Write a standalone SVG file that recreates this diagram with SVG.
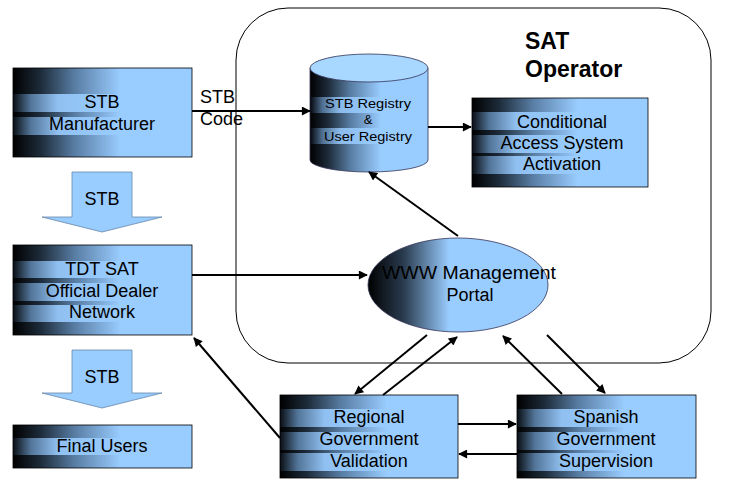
<svg xmlns="http://www.w3.org/2000/svg" width="742" height="482" viewBox="0 0 742 482">
<defs>
<linearGradient id="g1" x1="0" y1="0" x2="1" y2="0">
<stop offset="0" stop-color="#000"/>
<stop offset="0.15" stop-color="#1c2a38"/>
<stop offset="0.35" stop-color="#5a7fa6"/>
<stop offset="0.6" stop-color="#99ccff"/>
<stop offset="1" stop-color="#99ccff"/>
</linearGradient>
<linearGradient id="g2" x1="0" y1="0" x2="1" y2="0">
<stop offset="0" stop-color="#0a0f16"/>
<stop offset="0.1" stop-color="#5a7fa6"/>
<stop offset="0.25" stop-color="#99ccff"/>
<stop offset="1" stop-color="#99ccff"/>
</linearGradient>
<linearGradient id="ge" x1="0" y1="0" x2="1" y2="0">
<stop offset="0" stop-color="#000"/>
<stop offset="0.2" stop-color="#2a3c50"/>
<stop offset="0.45" stop-color="#99ccff"/>
<stop offset="1" stop-color="#99ccff"/>
</linearGradient>
<marker id="ah" viewBox="0 0 10 10" refX="9" refY="5" markerWidth="11" markerHeight="9" markerUnits="userSpaceOnUse" orient="auto">
<path d="M0,0 L10,5 L0,10 z" fill="#000"/>
</marker>
<style>
.box{fill:url(#g1);}
.band{fill:url(#g2);}
.edge{fill:none;stroke:#000;stroke-width:0.8;}
.t{font-family:"Liberation Sans",Arial,sans-serif;font-size:18px;fill:#000;text-anchor:middle;}
.ts{font-family:"Liberation Sans",Arial,sans-serif;font-size:13px;fill:#000;text-anchor:middle;}
.tb{font-family:"Liberation Sans",Arial,sans-serif;font-size:23px;font-weight:bold;fill:#000;}
.c{fill:none;stroke:#000;stroke-width:2;marker-end:url(#ah);}
.blk{fill:#99ccff;stroke:#6688aa;stroke-width:0.8;}
</style>
</defs>
<rect width="742" height="482" fill="#fff"/>

<g id="sat-operator">
<rect x="236" y="8" width="475" height="355" rx="52" ry="52" fill="none" stroke="#000" stroke-width="1"/>
<text class="tb" x="525" y="49">SAT</text>
<text class="tb" x="525" y="77">Operator</text>
</g>

<g id="stb-manufacturer">
<rect class="box" x="13" y="68" width="179" height="89"/>
<rect class="band" x="13" y="94" width="179" height="18" opacity="0.9"/>
<rect class="band" x="13" y="117" width="179" height="18" opacity="0.9"/>
<rect class="edge" x="13" y="68" width="179" height="89"/>
<text class="t" x="102" y="108">STB</text>
<text class="t" x="102" y="130">Manufacturer</text>
</g>

<g id="stb-arrow-1">
<path class="blk" d="M72,172 L132,172 L132,217 L162,217 L102,232 L42,217 L72,217 z"/>
<text class="t" x="102" y="205">STB</text>
</g>

<g id="tdt-sat-dealer">
<rect class="box" x="13" y="245" width="179" height="90"/>
<rect class="band" x="13" y="261" width="179" height="17" opacity="0.9"/>
<rect class="band" x="13" y="283" width="179" height="18" opacity="0.9"/>
<rect class="band" x="13" y="305" width="179" height="17" opacity="0.9"/>
<rect class="edge" x="13" y="245" width="179" height="90"/>
<text class="t" x="102" y="275">TDT SAT</text>
<text class="t" x="102" y="297">Official Dealer</text>
<text class="t" x="102" y="318">Network</text>
</g>

<g id="stb-arrow-2">
<path class="blk" d="M72,350 L132,350 L132,393 L162,393 L102,408 L42,393 L72,393 z"/>
<text class="t" x="102" y="383">STB</text>
</g>

<g id="final-users">
<rect class="box" x="13" y="425" width="179" height="43"/>
<rect class="band" x="13" y="438" width="179" height="17" opacity="0.9"/>
<rect class="edge" x="13" y="425" width="179" height="43"/>
<text class="t" x="102" y="452">Final Users</text>
</g>

<g id="registry">
<path d="M310,68 L310,160 A59,12 0 0 0 428,160 L428,68 z" fill="url(#g1)" stroke="#335" stroke-width="0.8"/>
<rect class="band" x="311" y="97" width="116" height="16" opacity="0.85"/>
<rect class="band" x="311" y="128" width="116" height="16" opacity="0.85"/>
<ellipse cx="369" cy="68" rx="59" ry="14" fill="#a8d8ff" stroke="#335" stroke-width="0.8"/>
<text class="ts" x="368" y="108" textLength="86" lengthAdjust="spacingAndGlyphs">STB Registry</text>
<text class="ts" x="368" y="124">&amp;</text>
<text class="ts" x="368" y="141" textLength="88" lengthAdjust="spacingAndGlyphs">User Registry</text>
</g>

<g id="cas-activation">
<rect class="box" x="472" y="98" width="176" height="89"/>
<rect class="band" x="472" y="112" width="176" height="18" opacity="0.9"/>
<rect class="band" x="472" y="135" width="176" height="18" opacity="0.9"/>
<rect class="band" x="472" y="156" width="176" height="18" opacity="0.9"/>
<rect class="edge" x="472" y="98" width="176" height="89"/>
<text class="t" x="562" y="128">Conditional</text>
<text class="t" x="562" y="149">Access System</text>
<text class="t" x="562" y="170">Activation</text>
</g>

<g id="www-portal">
<ellipse cx="458" cy="285" rx="90" ry="47" fill="url(#ge)" stroke="#335" stroke-width="0.8"/>
<text class="t" x="469" y="279" textLength="174" lengthAdjust="spacingAndGlyphs">WWW Management</text>
<text class="t" x="470" y="301">Portal</text>
</g>

<g id="regional-gov">
<rect class="box" x="280" y="395" width="178" height="83"/>
<rect class="band" x="280" y="409" width="178" height="18" opacity="0.9"/>
<rect class="band" x="280" y="432" width="178" height="18" opacity="0.9"/>
<rect class="band" x="280" y="453" width="178" height="18" opacity="0.9"/>
<rect class="edge" x="280" y="395" width="178" height="83"/>
<text class="t" x="369" y="423">Regional</text>
<text class="t" x="369" y="445">Government</text>
<text class="t" x="369" y="467">Validation</text>
</g>

<g id="spanish-gov">
<rect class="box" x="517" y="395" width="179" height="83"/>
<rect class="band" x="517" y="409" width="179" height="18" opacity="0.9"/>
<rect class="band" x="517" y="432" width="179" height="18" opacity="0.9"/>
<rect class="band" x="517" y="453" width="179" height="18" opacity="0.9"/>
<rect class="edge" x="517" y="395" width="179" height="83"/>
<text class="t" x="606" y="423">Spanish</text>
<text class="t" x="606" y="445">Government</text>
<text class="t" x="606" y="467">Supervision</text>
</g>

<g id="connectors">
<line class="c" x1="192" y1="111" x2="310" y2="111"/>
<text class="t" x="200" y="103" style="text-anchor:start">STB</text>
<text class="t" x="200" y="125" style="text-anchor:start">Code</text>
<line class="c" x1="428" y1="127" x2="471" y2="127"/>
<line class="c" x1="192" y1="275" x2="367" y2="275"/>
<line class="c" x1="458" y1="236" x2="369" y2="172"/>
<line class="c" x1="427" y1="335" x2="355" y2="394"/>
<line class="c" x1="383" y1="395" x2="457" y2="337"/>
<line class="c" x1="562" y1="394" x2="503" y2="336"/>
<line class="c" x1="547" y1="335" x2="605" y2="393"/>
<line class="c" x1="458" y1="424" x2="516" y2="424"/>
<line class="c" x1="517" y1="454" x2="459" y2="454"/>
<line class="c" x1="280" y1="438" x2="194" y2="338"/>
</g>
</svg>
